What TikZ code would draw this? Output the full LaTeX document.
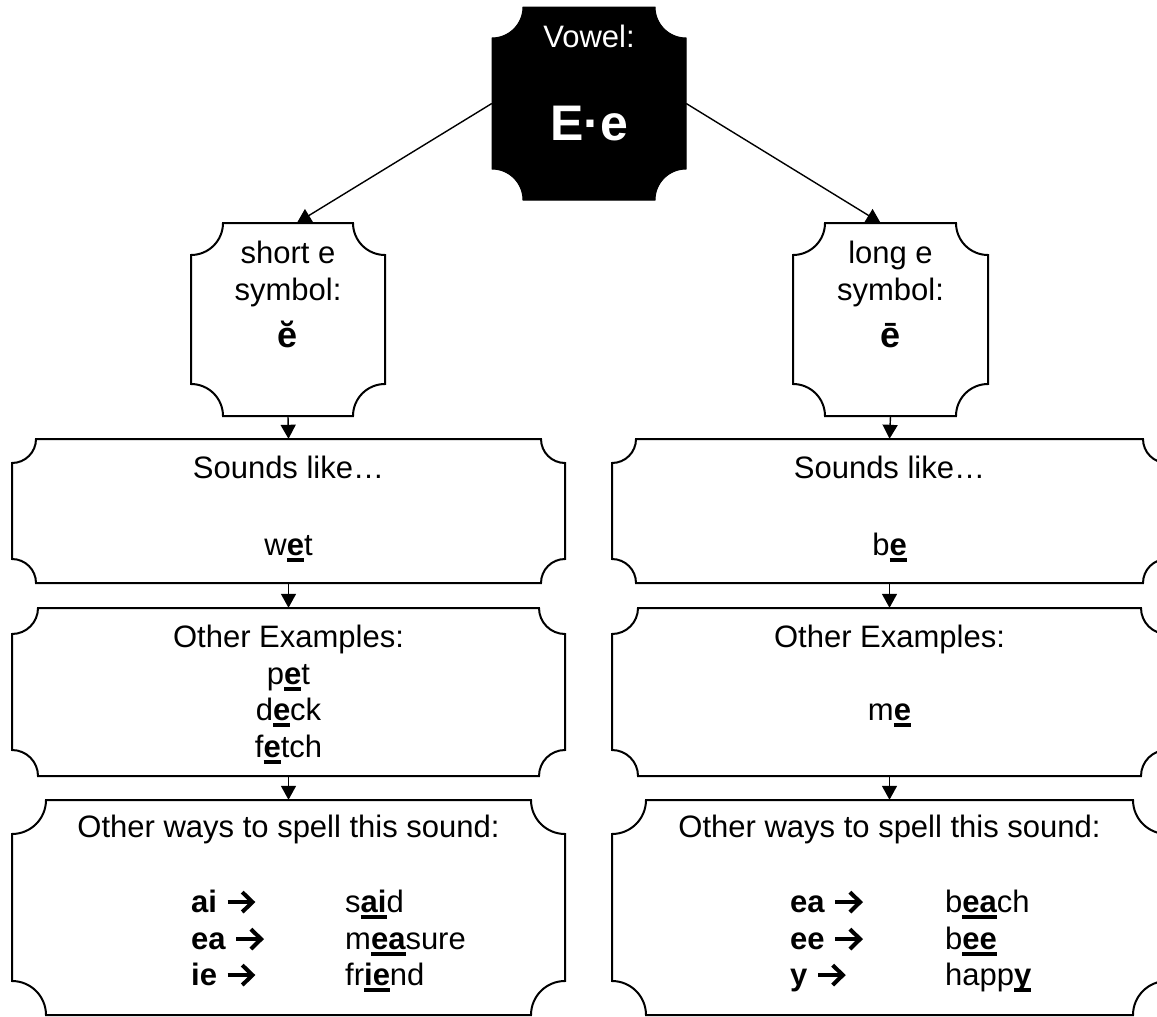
\documentclass[tikz,border=0pt]{standalone}
\usepackage{fontspec}
\setmainfont{Liberation Sans}
\usetikzlibrary{arrows.meta}

% bold letters with a heavy underline at a fixed depth
\newcommand\ulb[1]{\setbox0\hbox{\bfseries #1}\rlap{\rule[-0.22em]{\wd0}{0.11em}}\box0}

% heavy right arrow with an open chevron head, sized to the current font
\newcommand\rarr{\tikz[baseline=0pt, x=1em, y=1em]{%
  \draw[line width=0.13em] (0,0.32) -- (0.78,0.32);
  \draw[line width=0.13em, line join=miter, miter limit=10] (0.47,0.64) -- (0.8,0.32) -- (0.47,0);}}

% plaque: box with concave (inward) rounded corners plus an invisible named node
% #1 name, #2 left, #3 top, #4 right, #5 bottom (y measured downwards), #6 corner radius, #7 style
\newcommand\plaque[7]{%
  \path[#7] ({#2+#6},{-#3}) -- ({#4-#6},{-#3})
      arc[start angle=180, end angle=270, radius=#6]
      -- ({#4},{-#5+#6}) arc[start angle=90, end angle=180, radius=#6]
      -- ({#2+#6},{-#5}) arc[start angle=0, end angle=90, radius=#6]
      -- ({#2},{-#3-#6}) arc[start angle=270, end angle=360, radius=#6] -- cycle;
  \node[inner sep=0pt, minimum width={(#4-#2)*1pt}, minimum height={(#5-#3)*1pt}]
      (#1) at ({(#2+#4)/2},{-(#3+#5)/2}) {};
}

\tikzset{
  plaqueline/.style={draw=black, line width=2pt, fill=white},
  vowelbox/.style={draw=black, line width=1pt, fill=black},
  link/.style={line width=1.4pt, -{Triangle[width=15pt,length=14pt]}},
  txt/.style={inner sep=0pt, anchor=base, font=\fontsize{31}{36}\selectfont},
  bigtxt/.style={inner sep=0pt, anchor=base, font=\fontsize{50}{60}\selectfont\bfseries},
  symtxt/.style={inner sep=0pt, anchor=base, font=\fontsize{36}{40}\selectfont\bfseries},
  rowkey/.style={inner sep=0pt, anchor=base west, font=\fontsize{31}{36}\selectfont\bfseries},
  rowword/.style={inner sep=0pt, anchor=base west, font=\fontsize{31}{36}\selectfont},
}

\begin{document}
\begin{tikzpicture}[x=1pt, y=1pt]
\useasboundingbox (0,0) rectangle (1157,-1017);
\clip (0,0) rectangle (1157,-1017);

% top vowel box
\plaque{vowel}{492}{7}{686}{200}{31}{vowelbox}
\node[txt, text=white] (vowtitle) at (589,-47) {Vowel:};
\node[bigtxt, text=white] (vowletter) at (589,-140) {E·e};

% symbol boxes
\plaque{shortsym}{191}{223}{385}{416}{32}{plaqueline}
\plaque{longsym}{793}{223}{988}{416}{32}{plaqueline}
\node[txt] (sh1) at (288,-263) {short e};
\node[txt] (sh2) at (288,-300) {symbol:};
\node[symtxt] (sh3) at (288,-347) {ĕ};
\node[txt] (lo1) at (890.5,-263) {long e};
\node[txt] (lo2) at (890.5,-300) {symbol:};
\node[symtxt] (lo3) at (890.5,-347) {ē};

% "sounds like" boxes
\plaque{soundL}{12}{439}{565}{583}{24}{plaqueline}
\plaque{soundR}{612}{439}{1167}{583}{24}{plaqueline}
\node[txt] (sl1) at (288.5,-478) {Sounds like…};
\node[txt] (sl2) at (288.5,-555) {w\ulb{e}t};
\node[txt] (sr1) at (889.5,-478) {Sounds like…};
\node[txt] (sr2) at (889.5,-555) {b\ulb{e}};

% example boxes
\plaque{exL}{12}{608}{565}{776}{26}{plaqueline}
\plaque{exR}{612}{608}{1167}{776}{26}{plaqueline}
\node[txt] (el1) at (288.5,-647) {Other Examples:};
\node[txt] (el2) at (288.5,-684) {p\ulb{e}t};
\node[txt] (el3) at (288.5,-720) {d\ulb{e}ck};
\node[txt] (el4) at (288.5,-757) {f\ulb{e}tch};
\node[txt] (er1) at (889.5,-647) {Other Examples:};
\node[txt] (er2) at (889.5,-720) {m\ulb{e}};

% spelling boxes
\plaque{spL}{12}{800}{565}{1015}{34}{plaqueline}
\plaque{spR}{612}{800}{1167}{1015}{34}{plaqueline}
\node[txt] (spl0) at (288.5,-837) {Other ways to spell this sound:};
\node[rowkey] (kl1) at (191,-912) {ai \rarr};
\node[rowkey] (kl2) at (191,-949) {ea \rarr};
\node[rowkey] (kl3) at (191,-985) {ie \rarr};
\node[rowword] (wl1) at (345,-912) {s\ulb{ai}d};
\node[rowword] (wl2) at (345,-949) {m\ulb{ea}sure};
\node[rowword] (wl3) at (345,-985) {fr\ulb{ie}nd};
\node[txt] (spr0) at (889.5,-837) {Other ways to spell this sound:};
\node[rowkey] (kr1) at (790,-912) {ea \rarr};
\node[rowkey] (kr2) at (790,-949) {ee \rarr};
\node[rowkey] (kr3) at (790,-985) {y \rarr};
\node[rowword] (wr1) at (945,-912) {b\ulb{ea}ch};
\node[rowword] (wr2) at (945,-949) {b\ulb{ee}};
\node[rowword] (wr3) at (945,-985) {happ\ulb{y}};

% connectors
\draw[link] (vowel.west) -- ([xshift=9pt]shortsym.north);
\draw[link] (vowel.east) -- ([xshift=-10pt]longsym.north);
\draw[link] (shortsym.south) -- (soundL.north);
\draw[link] (soundL.south) -- (exL.north);
\draw[link] (exL.south) -- (spL.north);
\draw[link] (longsym.south) -- (soundR.north);
\draw[link] (soundR.south) -- (exR.north);
\draw[link] (exR.south) -- (spR.north);
\end{tikzpicture}
\end{document}
